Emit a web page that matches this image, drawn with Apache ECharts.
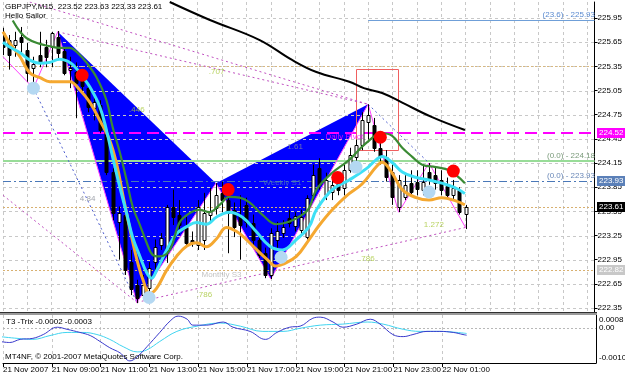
<!DOCTYPE html>
<html><head><meta charset="utf-8">
<script src="https://cdn.jsdelivr.net/npm/echarts@6/dist/echarts.min.js"></script>
<style>html,body{margin:0;padding:0;background:#fff}#c{width:625px;height:377px}</style>
</head><body><div id="c"></div>
<script>
// ---------------- DATA ----------------
const xLabels = ['21 Nov 2007','21 Nov 09:00','21 Nov 11:00','21 Nov 13:00','21 Nov 15:00','21 Nov 17:00','21 Nov 19:00','21 Nov 21:00','21 Nov 23:00','22 Nov 01:00'];
const xLabelIdx = [0,8,16,24,32,40,48,56,64,72];
const priceTicks = [222.35,222.65,222.95,223.25,223.55,223.85,224.15,224.45,224.75,225.05,225.35,225.65,225.95];

const candleOpen = [225.76,225.68,225.62,225.71,225.55,225.33,225.49,225.59,225.59,225.71,225.54,225.31,225.28,225.23,225.08,224.83,224.87,224.56,224.04,223.42,223.51,222.92,222.64,222.51,222.60,222.92,223.13,223.07,223.61,223.51,223.36,223.20,223.13,223.20,223.51,223.59,223.78,223.69,223.57,223.51,223.63,223.41,223.20,223.03,222.76,223.20,223.28,223.47,223.37,223.32,223.23,223.75,224.09,223.75,223.79,223.90,223.84,224.06,224.23,224.37,224.66,224.62,224.34,224.23,224.04,223.60,223.73,223.90,223.92,223.82,224.04,224.00,223.94,223.87,223.75,223.82,223.52];
const candleClose = [225.59,225.49,225.68,225.65,225.27,225.38,225.40,225.47,225.76,225.52,225.27,225.33,225.14,225.11,224.85,224.91,224.56,224.04,223.53,223.53,222.82,222.58,222.48,222.64,222.85,223.11,223.22,223.61,223.48,223.38,223.16,223.16,223.61,223.53,223.56,223.75,223.69,223.53,223.36,223.38,223.42,223.20,223.01,222.76,223.28,223.30,223.36,223.41,223.49,223.48,223.72,224.00,223.88,223.94,223.88,223.82,224.06,224.25,224.37,224.68,224.75,224.34,224.23,223.98,223.73,223.94,223.88,223.79,223.83,223.92,223.94,223.90,223.82,223.75,223.84,223.54,223.61];
const candleHigh = [225.83,225.74,225.78,225.84,225.64,225.47,225.78,225.68,225.78,225.79,225.58,225.47,225.40,225.31,225.14,224.97,224.93,224.59,224.09,223.61,223.57,223.07,222.70,222.76,222.92,223.20,223.28,223.63,223.82,223.69,223.48,223.30,223.69,223.78,223.84,223.90,223.92,223.85,223.66,223.75,223.72,223.51,223.26,223.10,223.34,223.42,223.44,223.57,223.54,223.57,223.75,224.13,224.21,224.03,223.97,223.99,224.13,224.34,224.44,224.78,224.88,224.71,224.44,224.31,224.13,224.00,224.00,224.06,224.06,224.13,224.15,224.09,224.06,223.97,223.94,223.85,223.63];
const candleLow = [225.49,225.31,225.47,225.52,225.16,225.11,225.34,225.34,225.34,225.45,225.24,225.08,224.71,225.00,224.78,224.68,224.52,224.00,223.44,222.95,222.76,222.51,222.41,222.45,222.54,222.80,223.07,222.91,223.38,223.26,223.11,223.11,223.07,223.07,223.42,223.51,223.54,223.03,223.23,222.95,223.35,223.13,222.97,222.72,222.71,223.07,223.22,223.35,223.30,223.26,223.20,223.69,223.82,223.69,223.69,223.75,223.75,224.03,224.16,224.31,224.44,224.29,224.13,223.92,223.63,223.54,223.69,223.73,223.75,223.75,223.88,223.82,223.75,223.72,223.69,223.51,223.33];

// moving averages: [bar index, price]
const maGreen = [[1.6,225.92],[2.8,225.78],[3.9,225.70],[5.6,225.64],[7.7,225.60],[9.3,225.58],[11.0,225.58],[12.1,225.53],[13.8,225.39],[15.4,225.21],[17.0,224.93],[18.0,224.60],[19.2,224.28],[20.3,223.94],[21.3,223.61],[22.5,223.38],[23.6,223.16],[24.6,223.01],[25.7,222.99],[27.4,223.07],[29.0,223.41],[30.7,223.53],[32.3,223.57],[33.9,223.54],[35.6,223.63],[37.2,223.73],[38.9,223.72],[40.5,223.66],[42.6,223.51],[44.9,223.39],[47.0,223.42],[49.2,223.51],[50.3,223.59],[51.5,223.82],[54.1,224.03],[56.9,224.19],[59.7,224.40],[62.3,224.52],[63.9,224.49],[65.6,224.34],[67.2,224.23],[68.9,224.13],[71.1,224.10],[73.3,224.06],[75.9,223.90]];
const maCyan = [[0,225.65],[1.1,225.59],[2.8,225.52],[4.4,225.43],[6.1,225.39],[7.7,225.40],[9.3,225.44],[10.5,225.42],[11.5,225.37],[13.1,225.22],[14.3,225.09],[15.9,224.85],[17.0,224.56],[18.0,224.23],[19.2,223.85],[20.3,223.53],[21.3,223.23],[22.5,222.99],[23.6,222.79],[24.4,222.72],[25.2,222.81],[26.9,223.07],[28.5,223.27],[30.2,223.36],[31.8,223.41],[33.4,223.39],[35.1,223.48],[37.2,223.54],[39.3,223.48],[41.6,223.30],[43.8,223.12],[45.9,223.07],[48.2,223.20],[50.3,223.36],[51.5,223.57],[54.1,223.82],[56.9,223.94],[59.7,224.08],[61.3,224.19],[62.3,224.23],[63.9,224.16],[65.6,224.04],[67.9,223.97],[70.0,223.94],[72.1,223.90],[74.4,223.84],[75.9,223.77]];
const maOrange = [[0,225.78],[1.1,225.64],[2.8,225.47],[4.4,225.27],[6.1,225.21],[7.7,225.16],[9.3,225.16],[11.0,225.16],[12.6,225.06],[14.3,224.90],[15.9,224.68],[17.5,224.44],[18.7,224.13],[19.7,223.75],[20.8,223.35],[22.0,222.95],[23.0,222.70],[24.1,222.53],[25.2,222.59],[26.9,222.82],[28.5,222.99],[30.2,223.12],[31.8,223.16],[33.4,223.11],[35.1,223.21],[36.7,223.35],[38.4,223.30],[40.0,223.20],[41.6,223.08],[43.3,222.96],[44.9,222.87],[45.9,222.89],[48.2,222.99],[50.3,223.20],[52.0,223.38],[54.1,223.57],[56.4,223.74],[59.0,223.89],[61.3,224.10],[62.3,224.16],[63.9,224.03],[65.6,223.82],[67.9,223.72],[70.0,223.69],[72.1,223.72],[74.4,223.68],[75.9,223.63]];
const maBlack = [[27.4,226.15],[33.9,225.93],[42.1,225.68],[47.5,225.43],[51.5,225.28],[56.9,225.16],[59.3,225.08],[62.3,225.02],[65.6,224.90],[70.5,224.72],[75.9,224.56]];

// harmonic pattern X A B C D and the swings after it
const patIdx = [9,22,35,44,60];
const patPrice = [225.78,222.42,223.90,222.71,224.88];
const zigIdx = [0,5,9,22,35,44,60,65,70,76];
const zigPrice = [225.47,225.08,225.78,222.42,223.90,222.71,224.88,223.54,224.15,223.35];

const purpleDotted = [
  [[4.4,226.15],[60,224.88]],
  [[9,225.78],[60,224.88]],
  [[0,223.75],[22,222.42]],
  [[22,222.42],[76,223.35]]
];
const blueDotted = [
  [[60,224.88],[70,224.15]],
  [[5,225.08],[22,222.42]]
];

const redDotIdx = [13,37,55,62,74];
const redDotPrice = [225.24,223.82,223.97,224.47,224.05];
const blueDotIdx = [5,24,45.7,58,70];
const blueDotPrice = [225.08,222.48,222.98,224.10,223.79];

const levelPrice = [225.93,225.35,224.52,224.18,223.93,223.61,222.82];
const levelStart = [60,0,0,0,0,0,0];

const annoText = ['.707','.446','1.61','4.84','.786','1.272','.786','Daily Pivot','Weekly S1','Monthly S3'];
const annoIdx = [35.1,22.0,48.0,13.9,33.1,70.8,59.8,56.1,45.9,35.9];
const annoPrice = [225.28,224.81,224.35,223.70,222.51,223.38,222.96,224.47,223.91,222.76];

const boxPrice = [224.52,223.93,223.61,222.82];
const boxText = ['224.52','223.93','223.61','222.82'];

const rectIdx = [58,64.9];
const rectPrice = [225.32,224.32];

const trixMain = [[-0.5,-0.00038],[1.1,-0.00041],[2.8,-0.00032],[4.9,-0.00029],[6.6,-0.00018],[8.9,0.00003],[10.5,-0.00003],[12.6,-0.00012],[14.3,-0.00021],[15.9,-0.00038],[17.5,-0.00056],[19.2,-0.00071],[20.8,-0.00094],[22.0,-0.00082],[23.6,-0.00053],[25.7,-0.00012],[27.4,0.00021],[28.7,0.00035],[30.2,0.00026],[31.1,0.00009],[33.4,0.00009],[36.1,0.00018],[37.7,0.00003],[40.5,-0.00009],[43.0,-0.00032],[44.9,-0.00012],[47.0,0.00003],[48.7,0.00006],[50.8,0.00029],[52.0,0.00032],[54.1,0.00018],[55.7,0.00003],[58.0,0.00012],[60.2,0.00026],[61.8,0.00012],[63.9,-0.00018],[65.6,-0.00024],[67.2,-0.00018],[69.5,-0.00009],[71.6,-0.00009],[73.8,-0.00012],[75.4,-0.00018],[76,-0.0002]];
const trixSignal = [[-0.5,-0.00024],[2.3,-0.00029],[4.9,-0.00032],[7.7,-0.00021],[10.5,-0.00012],[13.1,-0.00012],[15.4,-0.00018],[17.5,-0.00032],[19.7,-0.00053],[22.0,-0.00068],[23.6,-0.00062],[25.7,-0.00038],[28.5,-0.00009],[31.8,0.00006],[35.6,0.00015],[38.9,0.00006],[42.6,-0.00009],[45.9,-0.00009],[48.7,0],[52.0,0.00009],[55.7,0.00012],[59.7,0.00018],[62.3,0.00012],[65.6,-0.00003],[68.4,-0.00009],[71.6,-0.00009],[74.4,-0.00012],[76,-0.00015]];

// ---------------- CHART ----------------
const FONT = 'Liberation Sans';
const chart = echarts.init(document.getElementById('c'), null, {renderer:'canvas'});
const candles = candleOpen.map((o,i)=>[i,o,candleClose[i],candleLow[i],candleHigh[i]]);
const XMAX = 97.2;

const series = [];
// blue triangles
series.push({type:'custom', xAxisIndex:0, yAxisIndex:0, z:1, clip:true, silent:true,
  data:[[0]],
  renderItem:(params, api)=>{
    const p = patIdx.map((x,k)=>api.coord([x, patPrice[k]]));
    const tri = [[p[0],p[1],p[2]],[p[2],p[3],p[4]]];
    return {type:'group', children: tri.map(t=>({type:'polygon', shape:{points:t}, style:{fill:'#0000ff'}}))};
  }});
// horizontal grid
series.push({type:'custom', xAxisIndex:0, yAxisIndex:0, z:2, clip:true, silent:true,
  data: priceTicks.map(v=>[v]),
  renderItem:(params, api)=>{
    const a = api.coord([0, api.value(0)]), b = api.coord([XMAX, api.value(0)]);
    const y = Math.round(a[1])+0.5;
    return {type:'line', shape:{x1:a[0],y1:y,x2:b[0],y2:y}, style:{stroke:'#c8c8c8', lineWidth:1, lineDash:[3,3]}};
  }});
// level lines
const levelStyles = [
  {stroke:'#6f9fd8', lineWidth:1},
  {stroke:'#d8b880', lineWidth:1, lineDash:[2,2]},
  {stroke:'#ff00ff', lineWidth:2, lineDash:[12,6]},
  {stroke:'#98dc98', lineWidth:2},
  {stroke:'#4a78b8', lineWidth:1, lineDash:[8,3,2,3]},
  {stroke:'#d8b070', lineWidth:1, lineDash:[2,2]},
  {stroke:'#d8b070', lineWidth:1, lineDash:[2,2]}
];
series.push({type:'custom', xAxisIndex:0, yAxisIndex:0, z:3, clip:true, silent:true,
  data: levelPrice.map((v,k)=>[levelStart[k], v, k]),
  renderItem:(params, api)=>{
    const a = api.coord([api.value(0), api.value(1)]), b = api.coord([XMAX, api.value(1)]);
    const st = levelStyles[api.value(2)];
    const y = Math.round(a[1]) + (st.lineWidth % 2 ? 0.5 : 0);
    return {type:'line', shape:{x1:a[0],y1:y,x2:b[0],y2:y}, style:Object.assign({}, st)};
  }});
// dotted lines
purpleDotted.forEach(seg=>series.push({type:'line', xAxisIndex:0, yAxisIndex:0, z:4, data:seg, showSymbol:false, silent:true,
  lineStyle:{color:'#c050c0', width:1, type:[2,3]}}));
blueDotted.forEach(seg=>series.push({type:'line', xAxisIndex:0, yAxisIndex:0, z:4, data:seg, showSymbol:false, silent:true,
  lineStyle:{color:'#5060d0', width:1, type:[2,3]}}));
// zigzag
series.push({type:'line', xAxisIndex:0, yAxisIndex:0, z:4, data: zigIdx.map((x,k)=>[x,zigPrice[k]]), showSymbol:false, silent:true,
  lineStyle:{color:'#ff40ff', width:1}});
// red rectangle
series.push({type:'custom', xAxisIndex:0, yAxisIndex:0, z:4, silent:true, data:[[0]],
  renderItem:(params, api)=>{
    const a = api.coord([rectIdx[0], rectPrice[0]]), b = api.coord([rectIdx[1], rectPrice[1]]);
    return {type:'rect', shape:{x:Math.round(a[0])+0.5, y:Math.round(a[1])+0.5, width:Math.round(b[0]-a[0]), height:Math.round(b[1]-a[1])}, style:{fill:null, stroke:'#f06060', lineWidth:1}};
  }});
// candles
series.push({type:'custom', xAxisIndex:0, yAxisIndex:0, z:5, clip:true, silent:true, data:candles,
  renderItem:(params, api)=>{
    const i=api.value(0), o=api.value(1), c=api.value(2), l=api.value(3), h=api.value(4);
    const pO=api.coord([i,o]), pC=api.coord([i,c]), pL=api.coord([i,l]), pH=api.coord([i,h]);
    const x = Math.round(pO[0])+0.5;
    const top=Math.round(Math.min(pO[1],pC[1]))+0.5, bot=Math.round(Math.max(pO[1],pC[1]))+0.5;
    const bull = c>=o;
    return {type:'group', children:[
      {type:'line', shape:{x1:x,y1:pH[1],x2:x,y2:pL[1]}, style:{stroke:'#000', lineWidth:1}},
      {type:'rect', shape:{x:x-1.5, y:top, width:3, height:Math.max(1,bot-top)}, style:{fill: bull?'#fff':'#000', stroke:'#000', lineWidth:1}}
    ]};
  }});
// moving averages
const maDefs = [[maOrange,'#f5a830',3],[maCyan,'#3ee0f5',3],[maGreen,'#3a8a34',2.2],[maBlack,'#000',2]];
maDefs.forEach(([d,col,w])=>series.push({type:'line', xAxisIndex:0, yAxisIndex:0, z:6, data:d, smooth:0.4, showSymbol:false, silent:true,
  lineStyle:{color:col, width:w}}));
// dots
series.push({type:'scatter', xAxisIndex:0, yAxisIndex:0, z:7, symbolSize:13, silent:true,
  data: blueDotIdx.map((x,k)=>[x,blueDotPrice[k]]), itemStyle:{color:'#b4d8f2', opacity:1}});
series.push({type:'scatter', xAxisIndex:0, yAxisIndex:0, z:7, symbolSize:13, silent:true,
  data: redDotIdx.map((x,k)=>[x,redDotPrice[k]]), itemStyle:{color:'#ff0000', opacity:1}});
// annotations
const annoColors = ['#a8c83c','#a8c83c','#8a8f98','#8a8f98','#a8c83c','#a8c83c','#a8c83c','#ff00ff','#4a78b8','#b4b4b4'];
annoText.forEach((t,k)=>series.push({type:'scatter', xAxisIndex:0, yAxisIndex:0, z:8, symbolSize:0, silent:true,
  data:[[annoIdx[k], annoPrice[k]]],
  label:{show:true, position:'inside', formatter:t, color:annoColors[k], fontSize:8, fontFamily:FONT}}));
// trix
series.push({type:'line', xAxisIndex:1, yAxisIndex:1, z:5, data:trixSignal, smooth:0.4, showSymbol:false, silent:true,
  lineStyle:{color:'#40d4f0', width:1},
  markLine:{silent:true, symbol:'none', label:{show:false}, lineStyle:{color:'#b8b8b8', type:[2,2], width:1}, data:[{yAxis:0}]}});
series.push({type:'line', xAxisIndex:1, yAxisIndex:1, z:6, data:trixMain, smooth:0.4, showSymbol:false, silent:true,
  lineStyle:{color:'#3a3acc', width:1}});

const splitDash = {show:true, lineStyle:{color:'#c8c8c8', type:[3,3], width:1}};
const option = {
  animation:false,
  backgroundColor:'#fff',
  textStyle:{fontFamily:FONT},
  grid:[{left:3, right:29, top:2, height:310}, {left:3, right:29, top:315, height:48}],
  xAxis:[
    {type:'value', gridIndex:0, min:0, max:XMAX, interval:4, axisLabel:{show:false}, axisTick:{show:false}, axisLine:{show:false}, splitLine:splitDash},
    {type:'value', gridIndex:1, min:0, max:XMAX, interval:4,
      axisLine:{show:true, onZero:false, lineStyle:{color:'#000', width:1}},
      axisTick:{show:true, customValues:xLabelIdx, length:4, lineStyle:{color:'#000'}},
      axisLabel:{show:true, customValues:xLabelIdx, formatter:v=>xLabels[xLabelIdx.indexOf(Math.round(v))]||'', align:'left', margin:3, fontSize:8, color:'#000', fontFamily:FONT},
      splitLine:splitDash}
  ],
  yAxis:[
    {type:'value', gridIndex:0, position:'right', min:222.30, max:226.15, scale:true,
      axisLine:{show:true, onZero:false, lineStyle:{color:'#000', width:1}},
      axisTick:{show:true, customValues:priceTicks, length:3, lineStyle:{color:'#000'}},
      axisLabel:{show:true, customValues:priceTicks, formatter:v=>v.toFixed(2), margin:3, fontSize:8, color:'#000', fontFamily:FONT},
      splitLine:{show:false}},
    {type:'value', gridIndex:1, position:'right', min:-0.0010, max:0.000382, scale:true,
      axisLine:{show:true, onZero:false, lineStyle:{color:'#000', width:1}},
      axisTick:{show:false}, axisLabel:{show:false}, splitLine:{show:false}}
  ],
  series: series
};
chart.setOption(option);

// graphic texts and price boxes placed via the axes
const boxBg = ['#ff00ff','#5b80b8','#000000','#c8c8c8'];
const g = [];
const txt = (x,y,t,col,extra)=>Object.assign({type:'text', x:x, y:y, style:{text:t, fill:col||'#000', font:'8px '+FONT, textVerticalAlign:'middle'}, z:100}, extra||{});
g.push(txt(5,7,'GBPJPY,M15  223.52 223.63 223.33 223.61'));
g.push(txt(5,16,'Hello Sailor'));
g.push(txt(6,322,'T3 -Trix -0.0002 -0.0003'));
g.push(txt(5,357,'MT4NF, \u00a9 2001-2007 MetaQuotes Software Corp.'));
// fib labels
const fibY = (v)=>chart.convertToPixel({yAxisIndex:0}, v);
g.push({type:'text', x:595, y:fibY(225.93)-5, z:100, style:{text:'(23.6) - 225.93', fill:'#5a8ad0', font:'8px '+FONT, textAlign:'right', textVerticalAlign:'middle'}});
g.push({type:'text', x:595, y:fibY(224.18)-5, z:100, style:{text:'(0.0) - 224.18', fill:'#7a9a7a', font:'8px '+FONT, textAlign:'right', textVerticalAlign:'middle'}});
g.push({type:'text', x:595, y:fibY(223.93)-5, z:100, style:{text:'(0.0) - 223.93', fill:'#6a88b8', font:'8px '+FONT, textAlign:'right', textVerticalAlign:'middle'}});
// boxes
boxPrice.forEach((v,k)=>{
  const y = Math.round(fibY(v));
  g.push({type:'rect', shape:{x:597, y:y-5, width:28, height:10}, style:{fill:boxBg[k]}, z:100});
  g.push(txt(599, y, boxText[k], '#fff'));
});
// sub axis labels
const subY = (v)=>chart.convertToPixel({yAxisIndex:1}, v);
g.push(txt(599, 320, '0.0008'));
g.push(txt(599, Math.round(subY(0)), '0.00'));
g.push(txt(599, 358, '-0.0010'));
// separator between panes
g.push({type:'rect', shape:{x:0, y:312, width:597, height:3}, style:{fill:'#9a9a9a'}, z:100});
g.push({type:'line', shape:{x1:0, y1:312.5, x2:597, y2:312.5}, style:{stroke:'#303030', lineWidth:1}, z:101});
chart.setOption({graphic:g});
</script></body></html>
